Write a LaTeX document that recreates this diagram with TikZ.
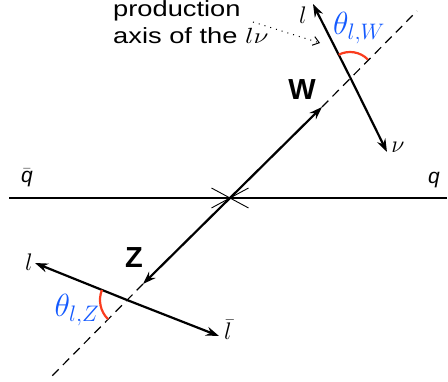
\RequirePackage{fix-cm}
\documentclass[tikz,border=0pt]{standalone}
\usepackage{fontspec}
\usepackage{graphicx}
\setmainfont{Liberation Sans}
\usetikzlibrary{positioning,angles,arrows.meta,shapes.misc}
\definecolor{thetablue}{RGB}{20,90,255}
\definecolor{arcred}{RGB}{250,60,30}
\newcommand{\widetext}[1]{\scalebox{1.24}[1]{#1}}

\begin{document}
\begin{tikzpicture}[
  x=1pt,y=1pt,
  >={Stealth[length=13pt,width=9pt]},
  fat/.style={line width=2.2pt,->},
  axisline/.style={line width=1.2pt,dash pattern=on 9pt off 6pt},
  mathlbl/.style={inner sep=0pt,font=\fontsize{24}{24}\selectfont},
  anglbl/.style={inner sep=0pt,text=thetablue,font=\fontsize{32}{32}\selectfont},
  bosonlbl/.style={inner sep=0pt,font=\fontsize{29}{29}\selectfont\bfseries},
  notetext/.style={anchor=base west,inner sep=0pt,font=\fontsize{22}{22}\selectfont},
  ang/.style={draw=arcred,line width=2.2pt,angle radius=25pt}
  ]
   \useasboundingbox (0,0) rectangle (448,382);

   % beam line and vertex
   \coordinate (qbarend) at (9,184);
   \coordinate (qend) at (447,184);
   \node (vtx) [cross out,draw,line width=0.9pt,minimum width=36pt,minimum height=19pt,inner sep=0pt] at (230,184) {};
   \draw [line width=1.8pt] (qbarend) -- (qend);
   \node (qbar) [inner sep=0pt,font=\fontsize{21}{21}\selectfont] at (27,204) {$\bar{\textit{q}}$};
   \node (q) [inner sep=0pt,font=\fontsize{21}{21}\selectfont\itshape] at (434,202) {q};

   % bosons and production axis
   \coordinate (Wtip) at (322,275);
   \coordinate (Ztip) at (143,98);
   \coordinate (axtop) at (417,371);
   \coordinate (axbot) at (52,6);
   \draw [fat] (vtx.center) -- (Wtip);
   \draw [fat] (vtx.center) -- (Ztip);
   \draw [axisline] (Wtip) -- (axtop);
   \draw [axisline] (Ztip) -- (axbot);
   \node (Wlbl) [bosonlbl] at (302,292) {W};
   \node (Zlbl) [bosonlbl] at (134,124) {Z};

   % W decay
   \coordinate (Wv) at (350,305);
   \coordinate (lWtip) at (313,378);
   \coordinate (nutip) at (387,230);
   \draw [fat] (Wv) -- (lWtip);
   \draw [fat] (Wv) -- (nutip);
   \pic [ang] {angle=axtop--Wv--lWtip};
   \node (lW) [mathlbl] at (303,367) {$l$};
   \node (nu) [mathlbl] at (398,235) {$\nu$};
   \node (thW) [anglbl] at (359,354) {$\theta_{l,W}$};

   % Z decay
   \coordinate (Zv) at (127,82);
   \coordinate (lZtip) at (35,119);
   \coordinate (lbartip) at (219,46);
   \draw [fat] (Zv) -- (lZtip);
   \draw [fat] (Zv) -- (lbartip);
   \pic [ang,angle radius=27pt] {angle=lZtip--Zv--axbot};
   \node (lZ) [mathlbl] at (29,120) {$l$};
   \node (lbar) [mathlbl] at (228,52) {$\bar{l}$};
   \node (thZ) [anglbl] at (77,72) {$\theta_{l,Z}$};

   % note on the axis
   \node (note1) [notetext] at (113,365) {\widetext{production}};
   \node (note2) [notetext] at (113,338) {\widetext{axis of the $l\nu$}};
   \coordinate (dotstart) at (253,360);
   \coordinate (dotend) at (320,339);
   \draw [line width=1pt,dash pattern=on 1pt off 5pt,-{Straight Barb[length=6pt,width=9pt]}] (dotstart) -- (dotend);

\end{tikzpicture}
\end{document}
